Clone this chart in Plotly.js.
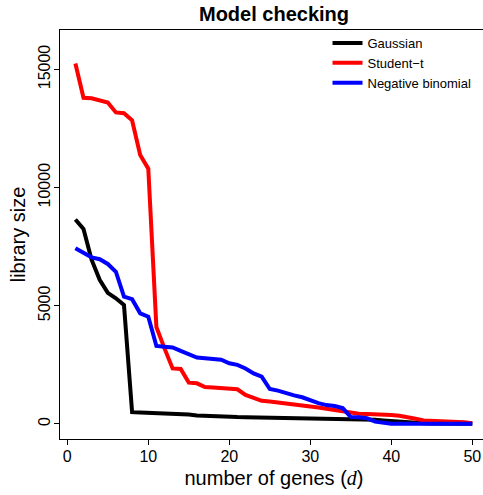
<!DOCTYPE html>
<html>
<head>
<meta charset="utf-8">
<script src="https://cdn.plot.ly/plotly-3.0.1.min.js"></script>
<style>
html, body { margin: 0; padding: 0; overflow: hidden; background: #fff; }
#chart { width: 500px; height: 495px; }
</style>
</head>
<body>
<div id="chart"></div>
<script>
// number of genes d = 1..50
const genes = [1,2,3,4,5,6,7,8,9,10,11,12,13,14,15,16,17,18,19,20,21,22,23,24,25,
  26,27,28,29,30,31,32,33,34,35,36,37,38,39,40,41,42,43,44,45,46,47,48,49,50];

const seriesNames = ["Gaussian", "Student\u2212t", "Negative binomial"];
const seriesColors = ["#000000", "#ff0000", "#0000ff"];

const gaussian = [8650,8250,6950,6100,5550,5320,5030,500,490,480,470,460,450,440,400,360,340,320,310,300,
  295,290,285,280,275,270,265,260,255,250,245,240,235,230,220,210,195,175,150,120,
  90,70,50,30,25,20,20,15,15,10];

const studentT = [15250,13800,13780,13680,13600,13180,13150,12850,11380,10800,4100,3200,2350,2330,1750,1720,1560,1540,1530,1510,
  1470,1230,1100,980,950,900,870,840,780,740,700,650,590,530,460,430,425,420,400,380,
  350,300,220,150,140,130,120,100,70,30];

const negBinomial = [7430,7250,7050,6970,6770,6440,5390,5280,4680,4540,3300,3270,3240,3090,2950,2810,2780,2750,2720,2570,
  2500,2350,2140,2000,1480,1410,1300,1210,1130,990,880,800,760,670,290,280,240,100,40,10,
  5,5,5,5,5,5,5,5,5,5];

const xTicks = [0,10,20,30,40,50];
const yTicks = [0,5000,10000,15000];
const yTickText = ["0","5000","10000","15000"];

const allSeries = [gaussian, studentT, negBinomial];

const traces = allSeries.map((vals, i) => ({
  x: genes,
  y: vals,
  type: "scatter",
  mode: "lines",
  name: seriesNames[i],
  line: { color: seriesColors[i], width: 4 }
}));

const FONT = "Liberation Sans, Arial, Helvetica, sans-serif";

const layout = {
  width: 500,
  height: 495,
  margin: { l: 60, r: 12, t: 30, b: 56 },
  paper_bgcolor: "#ffffff",
  plot_bgcolor: "#ffffff",
  font: { family: FONT, color: "#000000" },
  title: {
    text: "<b>Model checking</b>",
    font: { family: FONT, size: 20, color: "#000000" },
    xref: "paper", x: 0.5, xanchor: "center",
    yref: "container", y: 0.972, yanchor: "middle"
  },
  showlegend: true,
  legend: {
    x: 0.625, y: 1.005, xanchor: "left", yanchor: "top",
    bgcolor: "rgba(0,0,0,0)",
    font: { family: FONT, size: 13, color: "#000000" },
    itemwidth: 30,
    tracegroupgap: 0
  },
  xaxis: {
    range: [-0.90, 51.94],
    tickvals: xTicks,
    ticktext: xTicks.map(String),
    showgrid: false, zeroline: false,
    showline: true, linecolor: "#000000", linewidth: 1, mirror: true,
    ticks: "outside", ticklen: 5, tickcolor: "#000000",
    ticklabelstandoff: -2,
    tickfont: { family: FONT, size: 16, color: "#000000" },
    title: {
      text: "number of genes (<span style=\"font-family:'Liberation Serif', serif; font-style:italic\">d</span>)",
      font: { family: FONT, size: 20, color: "#000000" },
      standoff: 6
    }
  },
  yaxis: {
    range: [-635, 16667],
    tickvals: yTicks,
    ticktext: yTickText,
    tickangle: -90,
    showgrid: false, zeroline: false,
    showline: true, linecolor: "#000000", linewidth: 1, mirror: true,
    ticks: "outside", ticklen: 5, tickcolor: "#000000",
    ticklabelstandoff: -2,
    tickfont: { family: FONT, size: 16, color: "#000000" },
    title: {
      text: "library size",
      font: { family: FONT, size: 20, color: "#000000" },
      standoff: 4
    }
  }
};

Plotly.newPlot("chart", traces, layout, { displayModeBar: false, staticPlot: true });
</script>
</body>
</html>
